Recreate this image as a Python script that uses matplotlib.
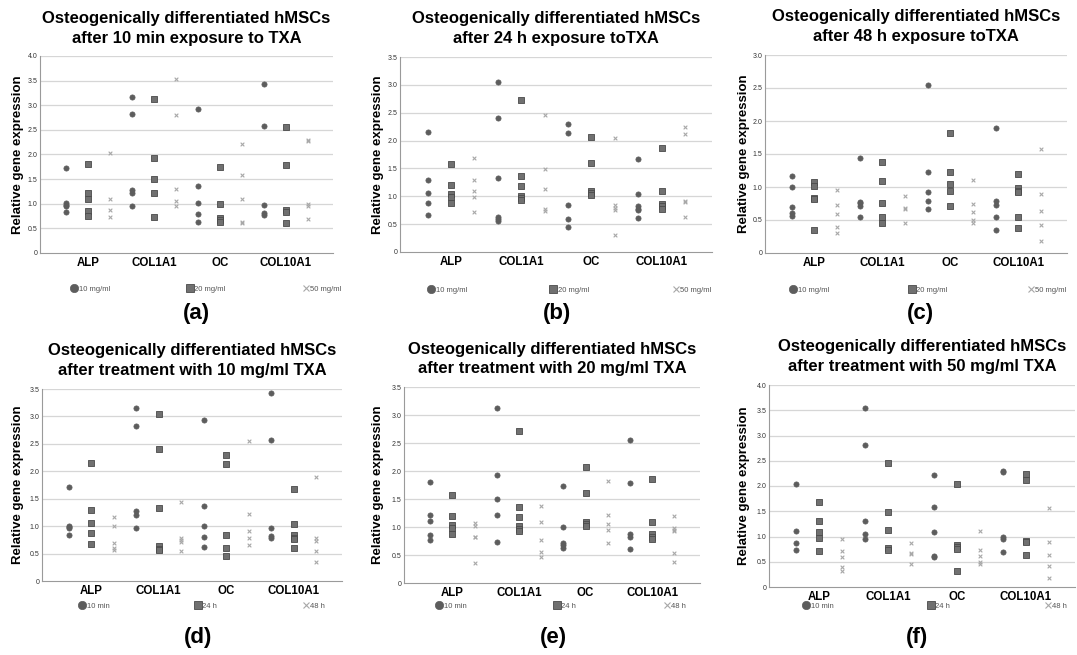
import matplotlib
matplotlib.use("Agg")
import matplotlib.pyplot as plt
from matplotlib.lines import Line2D

plt.rcParams['font.family'] = ['Liberation Sans', 'DejaVu Sans']

genes = ['ALP', 'COL1A1', 'OC', 'COL10A1']

# relative gene expression, one list per gene (ALP, COL1A1, OC, COL10A1)
# 10 min exposure
t10min_10mg = [[1.72, 1.01, 0.98, 0.96, 0.84],
               [3.16, 2.82, 1.28, 1.21, 0.96],
               [2.93, 1.37, 1.01, 0.80, 0.62],
               [3.43, 2.57, 0.97, 0.82, 0.78]]
t10min_20mg = [[1.81, 1.21, 1.10, 0.85, 0.76],
               [3.12, 1.93, 1.50, 1.22, 0.73],
               [1.74, 1.00, 0.71, 0.67, 0.62],
               [2.56, 1.78, 0.87, 0.83, 0.61]]
t10min_50mg = [[2.04, 1.10, 0.87, 0.73],
               [3.54, 2.81, 1.30, 1.05, 0.95],
               [2.21, 1.59, 1.09, 0.62, 0.60],
               [2.30, 2.27, 0.99, 0.96, 0.70]]
# 24 h exposure
t24h_10mg = [[2.16, 1.29, 1.06, 0.88, 0.67],
             [3.05, 2.40, 1.33, 0.63, 0.59, 0.56],
             [2.29, 2.14, 0.84, 0.60, 0.45],
             [1.67, 1.04, 0.83, 0.78, 0.76, 0.61]]
t24h_20mg = [[1.58, 1.20, 1.04, 0.99, 0.88],
             [2.72, 1.36, 1.18, 1.01, 0.97, 0.93],
             [2.07, 1.60, 1.09, 1.06, 1.02],
             [1.86, 1.09, 0.87, 0.82, 0.78]]
t24h_50mg = [[1.68, 1.30, 1.09, 0.98, 0.71],
             [2.46, 1.49, 1.13, 0.78, 0.73],
             [2.04, 0.84, 0.79, 0.76, 0.31],
             [2.24, 2.12, 0.91, 0.89, 0.63]]
# 48 h exposure
t48h_10mg = [[1.17, 1.00, 0.70, 0.61, 0.56],
             [1.44, 0.78, 0.75, 0.71, 0.55],
             [2.55, 1.22, 0.92, 0.79, 0.66],
             [1.90, 0.79, 0.73, 0.55, 0.35]]
t48h_20mg = [[1.07, 1.02, 0.83, 0.82, 0.35],
             [1.38, 1.09, 0.76, 0.55, 0.46],
             [1.82, 1.22, 1.05, 0.94, 0.71],
             [1.19, 0.99, 0.94, 0.92, 0.54, 0.38]]
t48h_50mg = [[0.96, 0.72, 0.59, 0.40, 0.31],
             [0.87, 0.68, 0.66, 0.45],
             [1.11, 0.74, 0.62, 0.50, 0.45],
             [1.57, 0.90, 0.64, 0.42, 0.18]]

conc_labels = ['10 mg/ml', '20 mg/ml', '50 mg/ml']
time_labels = ['10 min', '24 h', '48 h']

W, H = 1077, 655
fig = plt.figure(figsize=(W / 100, H / 100), dpi=100)


def fx(px):
    return px / W


def fy(py):
    return 1 - py / H


# marker, face, edge, size, linewidth
styles = [('o', '#5d5d5d', '#5d5d5d', 14, 0.5),
          ('s', '#707070', '#4a4a4a', 13, 0.6),
          ('x', '#a8a8a8', '#a8a8a8', 7, 0.8)]

head = 'Osteogenically differentiated hMSCs'
panels = [
    # box (left, right, top, bottom) px, ymax, subtitle, series, labels, tag,
    # legend (x0, x1, y) px, tag (x, y) px, ylabel x px
    ((40, 333, 56, 253), 4.0, 'after 10 min exposure to TXA',
     [t10min_10mg, t10min_20mg, t10min_50mg], conc_labels, '(a)', (71, 341, 289), (196, 313), 18),
    ((400, 712, 57, 252), 3.5, 'after 24 h exposure toTXA',
     [t24h_10mg, t24h_20mg, t24h_50mg], conc_labels, '(b)', (428, 711, 290), (557, 313), 378),
    ((765, 1067, 55, 253), 3.0, 'after 48 h exposure toTXA',
     [t48h_10mg, t48h_20mg, t48h_50mg], conc_labels, '(c)', (790, 1066, 290), (920, 313), 744),
    ((42, 342, 389, 581), 3.5, 'after treatment with 10 mg/ml TXA',
     [t10min_10mg, t24h_10mg, t48h_10mg], time_labels, '(d)', (79, 325, 606), (198, 638), 18),
    ((404, 700, 387, 583), 3.5, 'after treatment with 20 mg/ml TXA',
     [t10min_20mg, t24h_20mg, t48h_20mg], time_labels, '(e)', (436, 686, 606), (553, 638), 378),
    ((769, 1075, 385, 587), 4.0, 'after treatment with 50 mg/ml TXA',
     [t10min_50mg, t24h_50mg, t48h_50mg], time_labels, '(f)', (803, 1067, 606), (917, 638), 744),
]

for box, ymax, sub, series, labels, tag, leg, tagpos, ylx in panels:
    l, r, t, b = box
    ax = fig.add_axes([fx(l), fy(b), fx(r - l), (b - t) / H])
    for i, data in enumerate(series):
        m, fc, ec, s, lw = styles[i]
        for j in range(len(genes)):
            vals = data[j]
            if m == 'x':
                ax.scatter([3 * j + i] * len(vals), vals, marker=m, s=s,
                           c=fc, linewidths=lw, zorder=3)
            else:
                ax.scatter([3 * j + i] * len(vals), vals, marker=m, s=s,
                           c=fc, edgecolors=ec, linewidths=lw, zorder=3)
    ax.set_xlim(-1.18, 12.15)
    ax.set_ylim(0, ymax)
    yt = [k * 0.5 for k in range(int(ymax / 0.5) + 1)]
    ax.set_yticks(yt)
    ax.set_yticklabels(['0'] + ['%.1f' % v for v in yt[1:]])
    ax.set_xticks([3 * j + 1 for j in range(len(genes))])
    ax.set_xticklabels(genes, fontsize=8.3, fontweight='bold')
    ax.tick_params(axis='y', length=0, pad=2, labelsize=5, labelcolor='#333333')
    ax.tick_params(axis='x', length=0, pad=3)
    for v in yt[1:]:
        ax.axhline(v, color='#d6d6d6', lw=0.9, zorder=1)
    for side in ['top', 'right']:
        ax.spines[side].set_visible(False)
    for side in ['left', 'bottom']:
        ax.spines[side].set_color('#9a9a9a')
        ax.spines[side].set_linewidth(0.8)

    cx = (l + r) / 2
    fig.text(fx(cx), fy(t - 38), head, ha='center', va='center',
             fontsize=12, fontweight='bold')
    fig.text(fx(cx), fy(t - 18), sub, ha='center', va='center',
             fontsize=12, fontweight='bold')
    fig.text(fx(ylx), fy((t + b) / 2), 'Relative gene expression', rotation=90,
             ha='center', va='center', fontsize=9.5, fontweight='bold')
    fig.text(fx(tagpos[0]), fy(tagpos[1]), tag, ha='center', va='center',
             fontsize=16, fontweight='bold')

    handles = []
    for i in range(3):
        m, fc, ec, s, lw = styles[i]
        handles.append(Line2D([], [], ls='none', marker=m,
                              markersize=6 if m != 'x' else 4.5,
                              markerfacecolor=fc, markeredgecolor=ec,
                              markeredgewidth=lw, label=labels[i]))
    x0, x1, ly = leg
    ax.legend(handles=handles, ncol=3, mode='expand', loc='center',
              bbox_to_anchor=(fx(x0), fy(ly), fx(x1 - x0), 0),
              bbox_transform=fig.transFigure, frameon=False, fontsize=5.5,
              labelcolor='#555555', borderpad=0, borderaxespad=0,
              handlelength=0.9, handletextpad=0.1)

fig.savefig('out.png', dpi=100)
